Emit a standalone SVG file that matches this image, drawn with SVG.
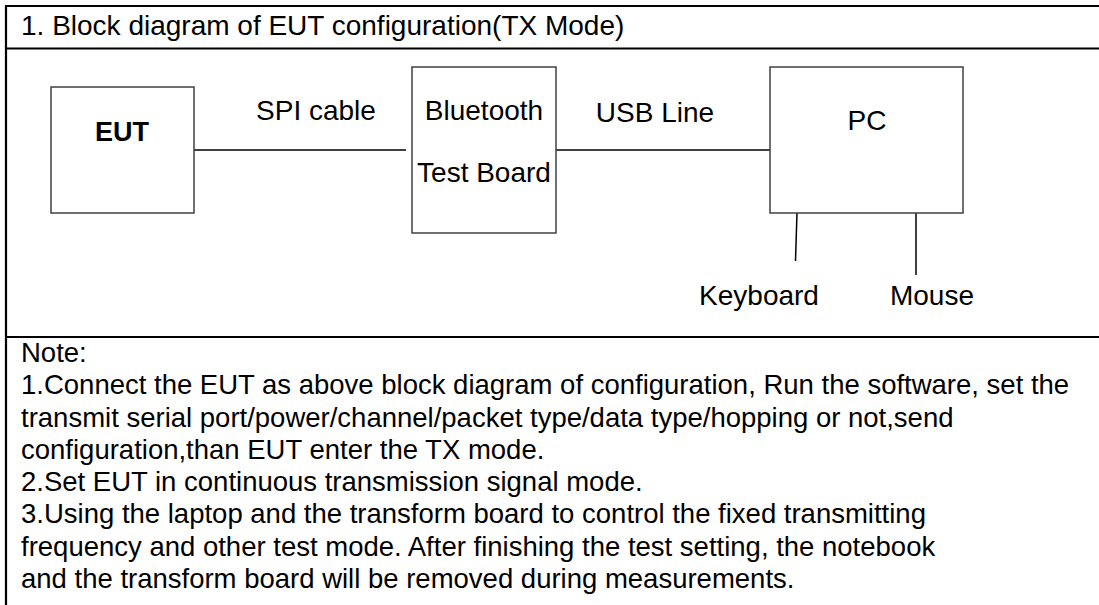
<svg xmlns="http://www.w3.org/2000/svg" width="1099" height="605" viewBox="0 0 1099 605">
<style>
text{font-family:"Liberation Sans",Arial,sans-serif;font-size:28px;fill:#000}
.c{text-anchor:middle}
.b{font-weight:bold;font-size:27px}
.n{font-size:27.5px}
.box{fill:#fff;stroke:#404040;stroke-width:1.5}
.wire{stroke:#000;stroke-width:1.5;fill:none}
.tbl{stroke:#000;stroke-width:2.2;fill:none}
</style>
<rect width="1099" height="605" fill="#fff"/>
<g id="table">
<line class="tbl" x1="6" y1="6" x2="1099" y2="6"/>
<line class="tbl" x1="6" y1="48.5" x2="1099" y2="48.5"/>
<line class="tbl" x1="6" y1="337" x2="1099" y2="337"/>
<line class="tbl" x1="6" y1="5" x2="6" y2="605"/>
<text x="21" y="35">1. Block diagram of EUT configuration(TX Mode)</text>
</g>
<g id="connectors">
<line class="wire" x1="194" y1="150" x2="406" y2="150"/>
<line class="wire" x1="556" y1="150" x2="770" y2="150"/>
<line class="wire" x1="797" y1="213" x2="795.5" y2="261"/>
<line class="wire" x1="916" y1="213" x2="916" y2="275"/>
<text class="c" x="316" y="120">SPI cable</text>
<text class="c" x="655" y="122">USB Line</text>
</g>
<g id="eut">
<rect class="box" x="51" y="87" width="143" height="126"/>
<text class="c b" x="122" y="141">EUT</text>
</g>
<g id="bt-board">
<rect class="box" x="412" y="67" width="144" height="166"/>
<text class="c" x="484" y="120">Bluetooth</text>
<text class="c" x="484" y="182">Test Board</text>
</g>
<g id="pc">
<rect class="box" x="770" y="67" width="193" height="146"/>
<text class="c" x="867" y="130">PC</text>
</g>
<g id="keyboard">
<text class="c" x="759" y="305">Keyboard</text>
</g>
<g id="mouse">
<text class="c" x="932" y="305">Mouse</text>
</g>
<g id="note" class="n">
<text class="n" x="21" y="362">Note:</text>
<text class="n" x="21" y="394">1.Connect the EUT as above block diagram of configuration, Run the software, set the</text>
<text class="n" x="21" y="427">transmit serial port/power/channel/packet type/data type/hopping or not,send</text>
<text class="n" x="21" y="459">configuration,than EUT enter the TX mode.</text>
<text class="n" x="21" y="491">2.Set EUT in continuous transmission signal mode.</text>
<text class="n" x="21" y="523">3.Using the laptop and the transform board to control the fixed transmitting</text>
<text class="n" x="21" y="556">frequency and other test mode. After finishing the test setting, the notebook</text>
<text class="n" x="21" y="588">and the transform board will be removed during measurements.</text>
</g>
</svg>
